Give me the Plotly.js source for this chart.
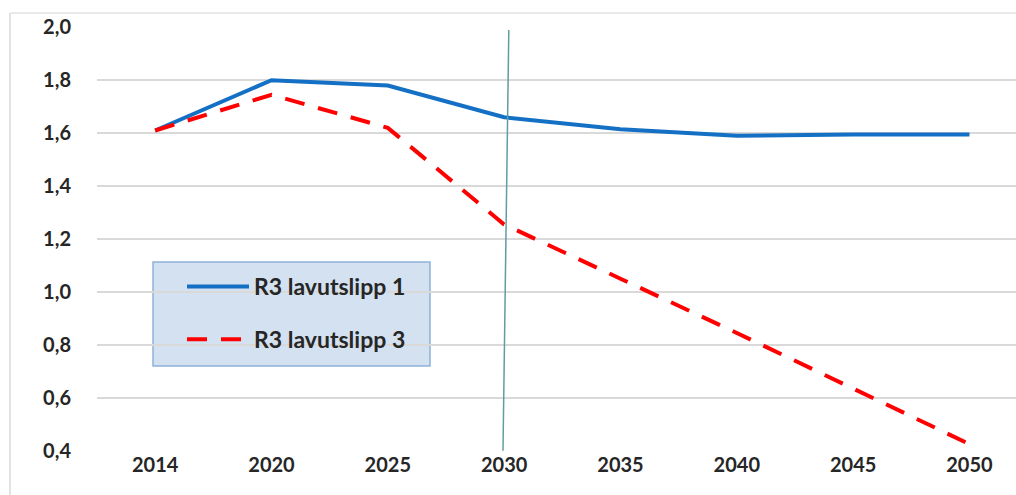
<!DOCTYPE html>
<html>
<head>
<meta charset="utf-8">
<script src="https://cdn.plot.ly/plotly-3.0.1.min.js"></script>
<style>
html,body{margin:0;padding:0;background:#fff;}
#chart{width:1016px;height:495px;}
</style>
</head>
<body>
<div id="chart"></div>
<script>
const years = ["2014","2020","2025","2030","2035","2040","2045","2050"];
const lavutslipp1 = [1.61, 1.80, 1.78, 1.66, 1.615, 1.59, 1.595, 1.595];
const lavutslipp3 = [1.61, 1.745, 1.62, 1.255, 1.05, 0.845, 0.635, 0.425];
const seriesNames = ["R3 lavutslipp 1", "R3 lavutslipp 3"];
const yTicks = [0.4, 0.6, 0.8, 1.0, 1.2, 1.4, 1.6, 1.8, 2.0];

const fontFam = "Lato, 'Open Sans', sans-serif";
const blue = "#1470c4", red = "#ff0000";
const redDash = "20px,14px";

// plot area geometry (px) used only to convert paper positions of decorations
const L = 97, W = 919, B = 44, H = 424;
const px = v => (v - L) / W;
const py = v => (495 - B - v) / H;

const traces = [
  {x: years, y: lavutslipp1, name: seriesNames[0], type: "scatter", mode: "lines",
   line: {color: blue, width: 4}, legendgroup: "a"},
  {x: years, y: lavutslipp3, name: seriesNames[1], type: "scatter", mode: "lines",
   line: {color: red, width: 4, dash: redDash}, legendgroup: "b"}
];

const legX = 182, legTop = 265;

const layout = {
  width: 1016, height: 495,
  margin: {l: L, r: 0, t: 27, b: B},
  paper_bgcolor: "#ffffff", plot_bgcolor: "#ffffff",
  separators: ", ",
  showlegend: true,
  font: {family: fontFam, color: "#262626"},
  xaxis: {
    type: "category", range: [-0.5, 7.4],
    showgrid: false, zeroline: false, showline: false,
    ticks: "", ticklen: 0,
    tickfont: {family: fontFam, size: 20, color: "#262626", weight: "bold"}
  },
  yaxis: {
    range: [0.399, 2.001], tickvals: yTicks, tickformat: ".1f",
    showgrid: true, gridcolor: "#d9d9d9", gridwidth: 1.5,
    zeroline: false, showline: false,
    ticks: "outside", ticklen: 21, tickcolor: "rgba(0,0,0,0)",
    tickfont: {family: fontFam, size: 20, color: "#262626", weight: "bold"}
  },
  legend: {
    x: px(legX), y: py(legTop), xanchor: "left", yanchor: "top",
    bgcolor: "rgba(0,0,0,0)", borderwidth: 0,
    itemwidth: 62,
    traceorder: "grouped", tracegroupgap: 20,
    font: {family: fontFam, size: 23, color: "#262626", weight: "bold"}
  },
  shapes: [
    {type: "rect", xref: "paper", yref: "paper",
     x0: px(153), x1: px(430), y0: py(366), y1: py(262),
     fillcolor: "#d3e1f1", line: {color: "#8fb1da", width: 1.5}, layer: "below"},
    {type: "line", xref: "x", yref: "y", x0: 3.04, x1: 2.99, y0: 1.99, y1: 0.4,
     line: {color: "#5f9ea0", width: 1.5}},
    {type: "line", xref: "paper", yref: "paper",
     x0: px(10), x1: px(10), y0: py(495), y1: py(13),
     line: {color: "#d9d9d9", width: 1.5}},
    {type: "line", xref: "paper", yref: "paper",
     x0: px(10), x1: 1, y0: py(13), y1: py(13),
     line: {color: "#e3e3e3", width: 1.5}}
  ]
};

Plotly.newPlot("chart", traces, layout, {displayModeBar: false, staticPlot: true});
</script>
</body>
</html>
